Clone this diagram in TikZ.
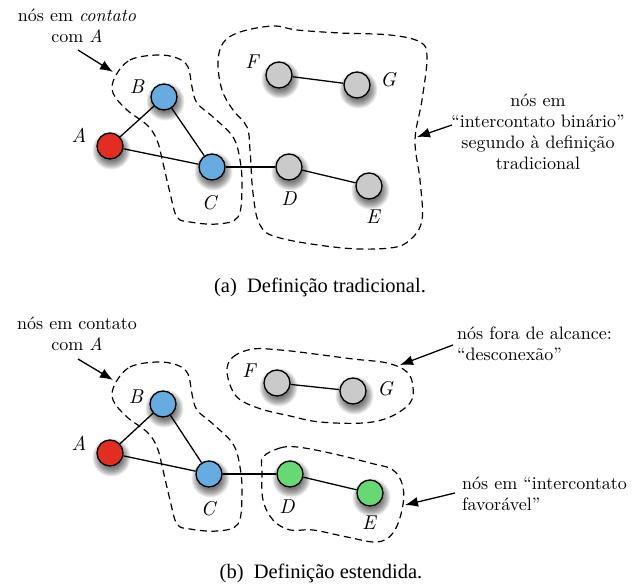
\documentclass[tikz,border=0pt]{standalone}
\usepackage{fontspec}
\setmainfont{lmroman10}[Extension=.otf,UprightFont=*-regular,ItalicFont=*-italic,BoldFont=*-bold,Ligatures=TeX]
\newfontfamily\capfont{Liberation Serif}
\usetikzlibrary{arrows.meta}
\pgfdeclarelayer{bg}
\pgfsetlayers{bg,main}
\definecolor{nred}{RGB}{226,45,34}
\definecolor{nblue}{RGB}{102,172,224}
\definecolor{ngray}{RGB}{202,202,202}
\definecolor{ngreen}{RGB}{102,217,116}
\newcommand{\vshadow}[1]{%
  \foreach \rr in {19,18,17,16,15,14,13,12,11}{%
    \fill[black,opacity=0.08] ([shift={(1.5,4.5)}]#1.center) circle (\rr);}}
\begin{document}
\begin{tikzpicture}[x=1pt,y=-1pt,
  vtx/.style={circle,draw=black,line width=1.3pt,minimum size=26pt,inner sep=0pt},
  lbl/.style={font=\fontsize{20}{24}\selectfont\itshape,inner sep=0pt},
  note/.style={font=\fontsize{18}{21}\selectfont,inner sep=0pt},
  link/.style={line width=1.3pt},
  blob/.style={dash pattern=on 7pt off 4.5pt,line width=1.2pt},
  ptr/.style={line width=1.3pt,-{Latex[length=13pt,width=10pt]}},
  captxt/.style={font=\capfont\fontsize{20.5}{24}\selectfont,inner sep=0pt}]
\useasboundingbox (0,0) rectangle (641,585);

% ---------------- (a) ----------------
\draw[blob] plot[smooth cycle,tension=0.6] coordinates {
  (115,77) (130,60) (157,55) (177,58) (188,67) (192,87) (197,103) (213,117)
  (233,137) (240,160) (242,187) (238,217) (217,224) (190,222) (177,217)
  (170,193) (163,163) (157,140) (147,125) (127,110) (113,93)};
\draw[blob] plot[smooth cycle,tension=0.6] coordinates {
  (223,43) (240,32) (273,26) (297,30) (340,33) (390,35) (420,42) (427,57)
  (422,100) (415,140) (420,180) (422,220) (410,240) (390,248) (343,248)
  (280,238) (260,225) (253,193) (250,150) (247,127) (233,110) (222,90) (218,63)};

\node[vtx,fill=nred]   (aA) at (110,146) {};
\node[vtx,fill=nblue]  (aB) at (164,97) {};
\node[vtx,fill=nblue]  (aC) at (212,167) {};
\node[vtx,fill=ngray]  (aD) at (289,167) {};
\node[vtx,fill=ngray]  (aE) at (369,186) {};
\node[vtx,fill=ngray]  (aF) at (279,75) {};
\node[vtx,fill=ngray]  (aG) at (357,85) {};
\begin{pgfonlayer}{bg}
  \vshadow{aA}\vshadow{aB}\vshadow{aC}\vshadow{aD}\vshadow{aE}\vshadow{aF}\vshadow{aG}
\end{pgfonlayer}
\draw[link] (aA) -- (aB);
\draw[link] (aA) -- (aC);
\draw[link] (aB) -- (aC);
\draw[link] (aC) -- (aD);
\draw[link] (aD) -- (aE);
\draw[link] (aF) -- (aG);

\node[lbl] (laA) at (79,135) {A};
\node[lbl] (laB) at (137,87) {B};
\node[lbl] (laC) at (209,203) {C};
\node[lbl] (laD) at (289,199) {D};
\node[lbl] (laE) at (373,217) {E};
\node[lbl] (laF) at (252,62) {F};
\node[lbl] (laG) at (388,80) {G};

\node[note,align=center] (na1) at (77,26) {nós em \emph{contato}\\com \textit{A}};
\node[note,align=center] (na2) at (538,132) {nós em\\“intercontato binário”\\segundo à definição\\tradicional};
\coordinate (pa1s) at (78,50);  \coordinate (pa1t) at (113,72);
\coordinate (pa2s) at (452,125); \coordinate (pa2t) at (417,137);
\draw[ptr] (pa1s) -- (pa1t);
\draw[ptr] (pa2s) -- (pa2t);

\node[captxt] (capa) at (320,287) {(a)\ \ Definição tradicional.};

% ---------------- (b) ----------------
\draw[blob] plot[smooth cycle,tension=0.6] coordinates {
  (115,384) (130,367) (157,362) (177,365) (188,374) (192,394) (197,410) (213,424)
  (233,444) (240,467) (242,494) (238,524) (217,531) (190,529) (177,524)
  (170,500) (163,470) (157,447) (147,432) (127,417) (113,400)};
\draw[blob] plot[smooth cycle,tension=0.6] coordinates {
  (227,372) (233,357) (253,349) (280,350) (307,353) (353,359) (387,363)
  (407,372) (413,387) (410,403) (390,417) (363,423) (320,422) (290,416)
  (258,408) (236,396)};
\draw[blob] plot[smooth cycle,tension=0.6] coordinates {
  (263,457) (280,448) (297,447) (330,453) (370,463) (393,470) (403,487)
  (402,510) (393,533) (377,542) (347,537) (313,530) (290,530) (273,520)
  (263,500) (262,472)};

\node[vtx,fill=nred]   (bA) at (110,453) {};
\node[vtx,fill=nblue]  (bB) at (163,404) {};
\node[vtx,fill=nblue]  (bC) at (209,474) {};
\node[vtx,fill=ngreen] (bD) at (290,474) {};
\node[vtx,fill=ngreen] (bE) at (370,493) {};
\node[vtx,fill=ngray]  (bF) at (277,383) {};
\node[vtx,fill=ngray]  (bG) at (353,391) {};
\begin{pgfonlayer}{bg}
  \vshadow{bA}\vshadow{bB}\vshadow{bC}\vshadow{bD}\vshadow{bE}\vshadow{bF}\vshadow{bG}
\end{pgfonlayer}
\draw[link] (bA) -- (bB);
\draw[link] (bA) -- (bC);
\draw[link] (bB) -- (bC);
\draw[link] (bC) -- (bD);
\draw[link] (bD) -- (bE);
\draw[link] (bF) -- (bG);

\node[lbl] (lbA) at (79,443) {A};
\node[lbl] (lbB) at (136,397) {B};
\node[lbl] (lbC) at (208,509) {C};
\node[lbl] (lbD) at (287,507) {D};
\node[lbl] (lbE) at (369,523) {E};
\node[lbl] (lbF) at (249,371) {F};
\node[lbl] (lbG) at (385,389) {G};

\node[note,align=center] (nb1) at (77,334) {nós em contato\\com \textit{A}};
\node[note,align=left,anchor=west] (nb2) at (457,344) {nós fora de alcance:\\“desconexão”};
\node[note,align=left,anchor=west] (nb3) at (462,494) {nós em “intercontato\\favorável”};
\coordinate (pb1s) at (78,359);  \coordinate (pb1t) at (113,380);
\coordinate (pb2s) at (453,345); \coordinate (pb2t) at (400,365);
\coordinate (pb3s) at (455,493); \coordinate (pb3t) at (405,505);
\draw[ptr] (pb1s) -- (pb1t);
\draw[ptr] (pb2s) -- (pb2t);
\draw[ptr] (pb3s) -- (pb3t);

\node[captxt] (capb) at (321,573) {(b)\ \ Definição estendida.};
\end{tikzpicture}
\end{document}
